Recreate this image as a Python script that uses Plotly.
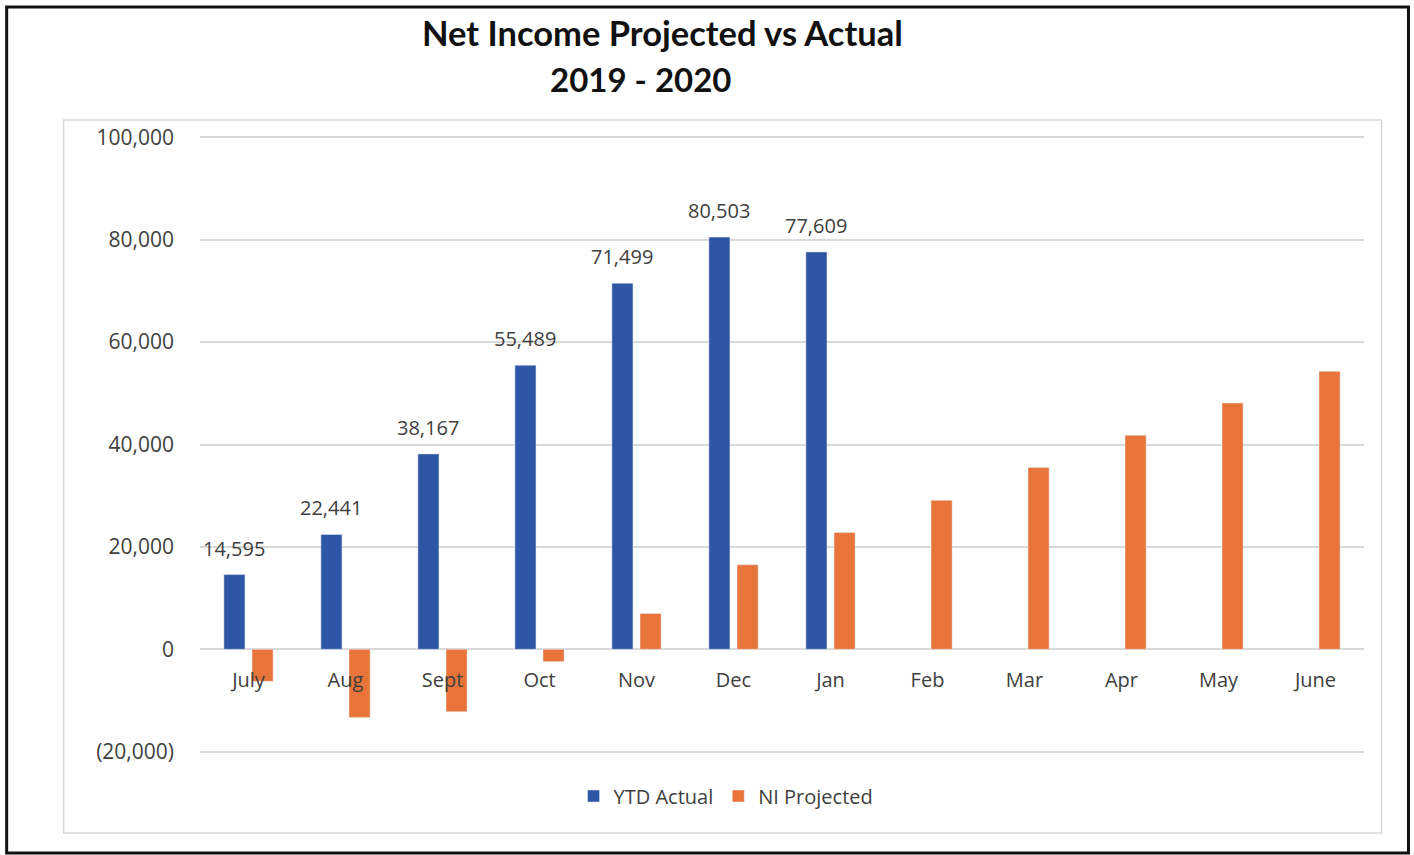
import plotly.graph_objects as go

months = ["July", "Aug", "Sept", "Oct", "Nov", "Dec", "Jan", "Feb", "Mar", "Apr", "May", "June"]
ytd_actual = [14595, 22441, 38167, 55489, 71499, 80503, 77609, None, None, None, None, None]
ni_projected = [-6250, -13300, -12200, -2400, 7000, 16500, 22800, 29100, 35500, 41800, 48100, 54300]
y_tickvals = [-20000, 0, 20000, 40000, 60000, 80000, 100000]
y_ticktext = ["(20,000)", "0", "20,000", "40,000", "60,000", "80,000", "100,000"]

BLUE = "#2F55A5"
ORANGE = "#E8743A"
TXT = "#404040"
FONT = "Open Sans"

W, H = 1414, 855
L, R, T, B = 199.5, 49.5, 136, 102
PW, PH = W - L - R, H - T - B
Y_RANGE = [-20250, 100250]
BARGAP, BARGROUPGAP = 0.42, 0.25


def px(x):
    return (x - L) / PW


def py(y):
    return (H - B - y) / PH


fig = go.Figure()
fig.add_trace(go.Bar(x=months, y=ytd_actual, name="YTD Actual", marker_color=BLUE))
fig.add_trace(go.Bar(x=months, y=ni_projected, name="NI Projected", marker_color=ORANGE))

# data labels centred over the blue bars (offset of first bar within the group)
cat_px = PW / len(months)
blue_shift = -cat_px * (1 - BARGAP) / 4
label_annots = [
    dict(x=m, y=v, xref="x", yref="y", text=f"{v:,}", showarrow=False,
         xanchor="center", yanchor="bottom", xshift=blue_shift, yshift=11,
         font=dict(family=FONT, size=20, color=TXT))
    for m, v in zip(months, ytd_actual) if v is not None
]

fig.update_layout(
    width=W, height=H,
    margin=dict(l=L, r=R, t=T, b=B),
    paper_bgcolor="white", plot_bgcolor="white",
    barmode="group", bargap=BARGAP, bargroupgap=BARGROUPGAP,
    font=dict(family=FONT, size=20, color=TXT),
    showlegend=True,
    legend=dict(orientation="h", x=px(726), y=py(796), xanchor="center", yanchor="middle",
                font=dict(family=FONT, size=20, color=TXT), itemwidth=30,
                tracegroupgap=0),
    xaxis=dict(anchor="free", position=(0 - Y_RANGE[0]) / (Y_RANGE[1] - Y_RANGE[0]),
               showline=False, showgrid=False, ticks="",
               tickfont=dict(family=FONT, size=20, color=TXT),
               ticklabelstandoff=17),
    yaxis=dict(range=Y_RANGE, tickvals=y_tickvals, ticktext=y_ticktext,
               showgrid=True, gridcolor="#D9D9D9", gridwidth=1.5, zeroline=False,
               ticks="", ticklabelstandoff=25,
               tickfont=dict(family=FONT, size=21, color=TXT)),
    shapes=[
        dict(type="rect", xref="paper", yref="paper", x0=px(6), x1=px(1409), y0=py(853), y1=py(7),
             line=dict(color="#111111", width=3), layer="below"),
        dict(type="rect", xref="paper", yref="paper", x0=px(63), x1=px(1382), y0=py(833), y1=py(120),
             line=dict(color="#D9D9D9", width=1.5), layer="below"),
    ],
    annotations=[
        dict(text="<b>Net Income Projected vs Actual</b>", xref="paper", yref="paper",
             x=px(662), y=py(32), xanchor="center", yanchor="middle", showarrow=False,
             font=dict(family="Lato", size=34.5, color="#111111")),
        dict(text="<b>2019 - 2020</b>", xref="paper", yref="paper",
             x=px(640), y=py(79), xanchor="center", yanchor="middle", showarrow=False,
             font=dict(family="Lato", size=33, color="#111111")),
    ] + label_annots,
)

fig.write_html("out.html")
